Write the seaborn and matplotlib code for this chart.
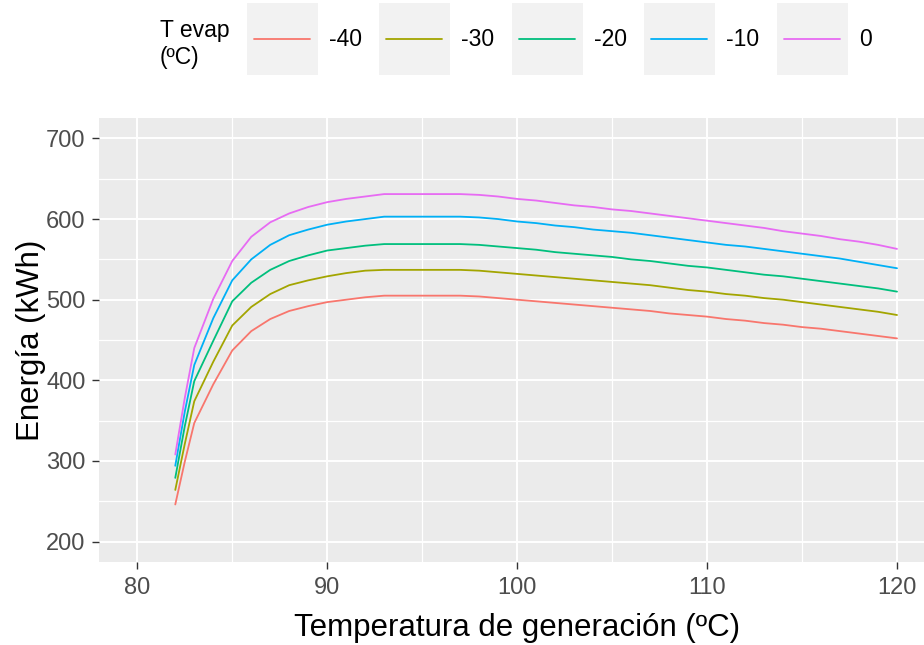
import pandas as pd
import matplotlib
matplotlib.use("Agg")
import matplotlib.pyplot as plt
from matplotlib.patches import Rectangle
from matplotlib.lines import Line2D
from matplotlib.ticker import MultipleLocator
import seaborn as sns

# datos
t_gen = [82, 82.5, 83, 84, 85, 86, 87, 88, 89, 90, 91, 92, 93, 94, 95, 96, 97,
         98, 99, 100, 101, 102, 103, 104, 105, 106, 107, 108, 109, 110, 111,
         112, 113, 114, 115, 116, 117, 118, 119, 120]

t_evap = [-40, -30, -20, -10, 0]

e_m40 = [246, 299, 347, 395, 437, 461, 476, 486, 492, 497, 500, 503, 505, 505,
         505, 505, 505, 504, 502, 500, 498, 496, 494, 492, 490, 488, 486, 483,
         481, 479, 476, 474, 471, 469, 466, 464, 461, 458, 455, 452]
e_m30 = [264, 321, 374, 423, 468, 491, 507, 518, 524, 529, 533, 536, 537, 537,
         537, 537, 537, 536, 534, 532, 530, 528, 526, 524, 522, 520, 518, 515,
         512, 510, 507, 505, 502, 500, 497, 494, 491, 488, 485, 481]
e_m20 = [279, 343, 399, 449, 498, 521, 537, 548, 555, 561, 564, 567, 569, 569,
         569, 569, 569, 568, 566, 564, 562, 559, 557, 555, 553, 550, 548, 545,
         542, 540, 537, 534, 531, 529, 526, 523, 520, 517, 514, 510]
e_m10 = [294, 361, 419, 477, 524, 550, 568, 580, 587, 593, 597, 600, 603, 603,
         603, 603, 603, 602, 600, 597, 595, 592, 590, 587, 585, 583, 580, 577,
         574, 571, 568, 566, 563, 560, 557, 554, 551, 547, 543, 539]
e_0 = [308, 378, 440, 501, 548, 578, 596, 607, 615, 621, 625, 628, 631, 631,
       631, 631, 631, 630, 628, 625, 623, 620, 617, 615, 612, 610, 607, 604,
       601, 598, 595, 592, 589, 585, 582, 579, 575, 572, 568, 563]

series = [e_m40, e_m30, e_m20, e_m10, e_0]
colores = ["#F8766D", "#A3A500", "#00BF7D", "#00B0F6", "#E76BF3"]

df = pd.concat(
    [pd.DataFrame({"tgen": t_gen, "energia": s, "tevap": te})
     for te, s in zip(t_evap, series)],
    ignore_index=True,
)

sns.set_style("darkgrid")
plt.rcParams["font.family"] = ["Liberation Sans", "DejaVu Sans"]

W, H = 924, 645
fig = plt.figure(figsize=(W / 100, H / 100), dpi=100)

# panel (el borde derecho queda fuera de la figura, como en el original)
left, right, top, bottom = 99.3, 935, 118.3, 561.7
ax = fig.add_axes([left / W, 1 - bottom / H, (right - left) / W, (bottom - top) / H])
ax.set_facecolor("#EBEBEB")

sns.lineplot(data=df, x="tgen", y="energia", hue="tevap", hue_order=t_evap,
             palette=dict(zip(t_evap, colores)), legend=False, ax=ax, lw=1.3)

ax.set_xlim(78, 122)
ax.set_ylim(175, 725)
ax.xaxis.set_major_locator(MultipleLocator(10))
ax.xaxis.set_minor_locator(MultipleLocator(5))
ax.yaxis.set_major_locator(MultipleLocator(100))
ax.yaxis.set_minor_locator(MultipleLocator(50))
ax.grid(which="major", color="white", lw=1.4)
ax.grid(which="minor", color="white", lw=0.9)
ax.tick_params(which="minor", length=0, bottom=False, left=False)
ax.tick_params(which="major", bottom=True, left=True, length=5.3, width=1,
               color="#333333", labelsize=17, labelcolor="#4D4D4D")
ax.tick_params(axis="y", pad=4.5)
ax.tick_params(axis="x", pad=6)
for s in ax.spines.values():
    s.set_visible(False)

ax.set_xlabel("Temperatura de generación (ºC)", fontsize=22.5, color="black")
ax.set_ylabel("Energía (kWh)", fontsize=22.5, color="black")
ax.xaxis.label.set_va("center")
ax.yaxis.label.set_va("center")
ax.xaxis.set_label_coords(0.5, ((H - 628) - (H - bottom)) / (bottom - top))
ax.yaxis.set_label_coords((31 - left) / (right - left), 0.5)

# leyenda arriba, al estilo ggplot
def fx(px):
    return px / W

def fy(py):
    return 1 - py / H

fig.text(fx(160), fy(44), "T evap\n(ºC)", fontsize=16.5, va="center",
         ha="left", linespacing=1.2, color="black")
key_left = [247, 379, 512, 644, 777]
for x0, te, col in zip(key_left, t_evap, colores):
    fig.add_artist(Rectangle((fx(x0), fy(75)), 71 / W, 72 / H,
                             transform=fig.transFigure, color="#F2F2F2", lw=0))
    fig.add_artist(Line2D([fx(x0 + 7), fx(x0 + 63)], [fy(39), fy(39)],
                          transform=fig.transFigure, color=col, lw=1.3))
    fig.text(fx(x0 + 82), fy(39), str(te), fontsize=16.5, va="center",
             ha="left", color="black")

fig.savefig("out.png", dpi=100)
